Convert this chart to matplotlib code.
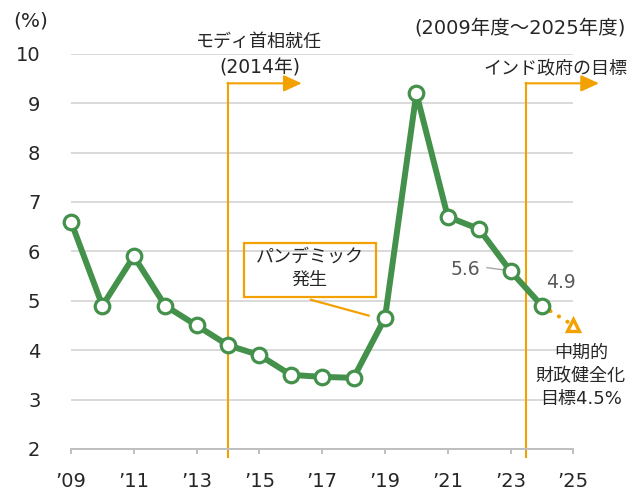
import matplotlib
matplotlib.use("Agg")
import matplotlib.pyplot as plt
from matplotlib.patches import Rectangle

plt.rcParams['font.family'] = ['DejaVu Sans', 'Noto Sans CJK JP']

# fiscal deficit (% of GDP), FY2009-FY2024
years = list(range(2009, 2025))
deficit = [6.6, 4.9, 5.9, 4.9, 4.5, 4.1, 3.9, 3.5, 3.46, 3.44, 4.65, 9.2, 6.7, 6.45, 5.6, 4.9]

# medium-term target
target_years = [2024, 2025]
target_vals = [4.9, 4.5]

xticks = list(range(2009, 2026, 2))
xticklabels = ["’09", "’11", "’13", "’15", "’17", "’19", "’21", "’23", "’25"]
yticks = list(range(2, 11))

green = "#43914a"
orange = "#f3a100"
txt = "#262626"
gray_txt = "#595959"

fig = plt.figure(figsize=(6.29, 4.92), dpi=100)
ax = fig.add_axes([0.1129, 0.0874, 0.7986, 0.8035])

ax.set_xlim(2009, 2025)
ax.set_ylim(2, 10)

for s in ["left", "right", "top"]:
    ax.spines[s].set_visible(False)
ax.spines["bottom"].set_color("#bfbfbf")
ax.spines["bottom"].set_linewidth(1.4)

ax.set_yticks(yticks)
ax.set_yticklabels([str(v) for v in yticks])
ax.set_xticks(xticks)
ax.set_xticklabels(xticklabels)
ax.tick_params(axis="y", length=0, pad=22, labelsize=14, labelcolor=txt)
ax.tick_params(axis="x", length=3.6, width=1.4, color="#bfbfbf", pad=13,
               labelsize=14, labelcolor=txt)
ax.yaxis.grid(True, color="#d9d9d9", lw=1.4)
ax.set_axisbelow(True)

# event lines with arrows
for xv, tip in [(2014.0, 2016.35), (2023.5, 2025.82)]:
    ax.plot([xv, xv], [1.84, 9.40], color=orange, lw=1.5, clip_on=False, zorder=2)
    ax.annotate("", xy=(tip, 9.40), xytext=(xv - 0.02, 9.40),
                arrowprops=dict(arrowstyle="-|>,head_length=1.1,head_width=0.5",
                                color=orange, lw=1.5, shrinkA=0, shrinkB=0,
                                mutation_scale=10),
                annotation_clip=False, zorder=2)

# target dotted line
ax.plot(target_years, target_vals, color=orange, lw=3, linestyle=(0, (0.01, 2.4)),
        dash_capstyle="round", clip_on=False, zorder=3)
ax.plot(target_years[-1:], target_vals[-1:], marker="^", ms=8.5, mfc="white",
        mec=orange, mew=2.4, ls="none", clip_on=False, zorder=4)

# main series
ax.plot(years, deficit, color=green, lw=4.3, marker="o", ms=10.5, mfc="white",
        mec=green, mew=2.3, zorder=5, clip_on=False)

# texts
fig.text(13 / 629, 1 - 21 / 492, "(%)", fontsize=14.5, color=txt, ha="left", va="center")
fig.text(626 / 629, 1 - 28 / 492, "(2009年度～2025年度)", fontsize=14, color=txt,
         ha="right", va="center")

ax.text(2015.0, 10.24, "モディ首相就任", fontsize=13, color=txt, ha="center", va="center",
        clip_on=False)
ax.text(2015.0, 9.72, "(2014年)", fontsize=13.5, color=txt, ha="center", va="center",
        clip_on=False)
ax.text(2024.43, 9.69, "インド政府の目標", fontsize=13, color=txt, ha="center", va="center",
        clip_on=False)

# pandemic callout
ax.add_patch(Rectangle((2014.51, 5.07), 4.19, 1.09, fill=False, ec=orange, lw=1.6,
                       zorder=3))
ax.plot([2016.64, 2018.48], [5.02, 4.70], color=orange, lw=1.6, zorder=3)
ax.text(2016.61, 5.90, "パンデミック", fontsize=13, color=txt, ha="center", va="center")
ax.text(2016.61, 5.43, "発生", fontsize=13, color=txt, ha="center", va="center")

# value labels
ax.plot([2022.25, 2022.95], [5.67, 5.61], color="#a6a6a6", lw=1.0, zorder=4)
ax.text(2021.55, 5.63, "5.6", fontsize=13.5, color=gray_txt, ha="center", va="center")
ax.text(2024.6, 5.37, "4.9", fontsize=13.5, color=gray_txt, ha="center", va="center")

for i, line in enumerate(["中期的", "財政健全化", "目標4.5%"]):
    ax.text(2025.24, 3.95 - i * 0.473, line, fontsize=13, color=txt, ha="center",
            va="center", clip_on=False)

fig.savefig("out.png", dpi=100)
